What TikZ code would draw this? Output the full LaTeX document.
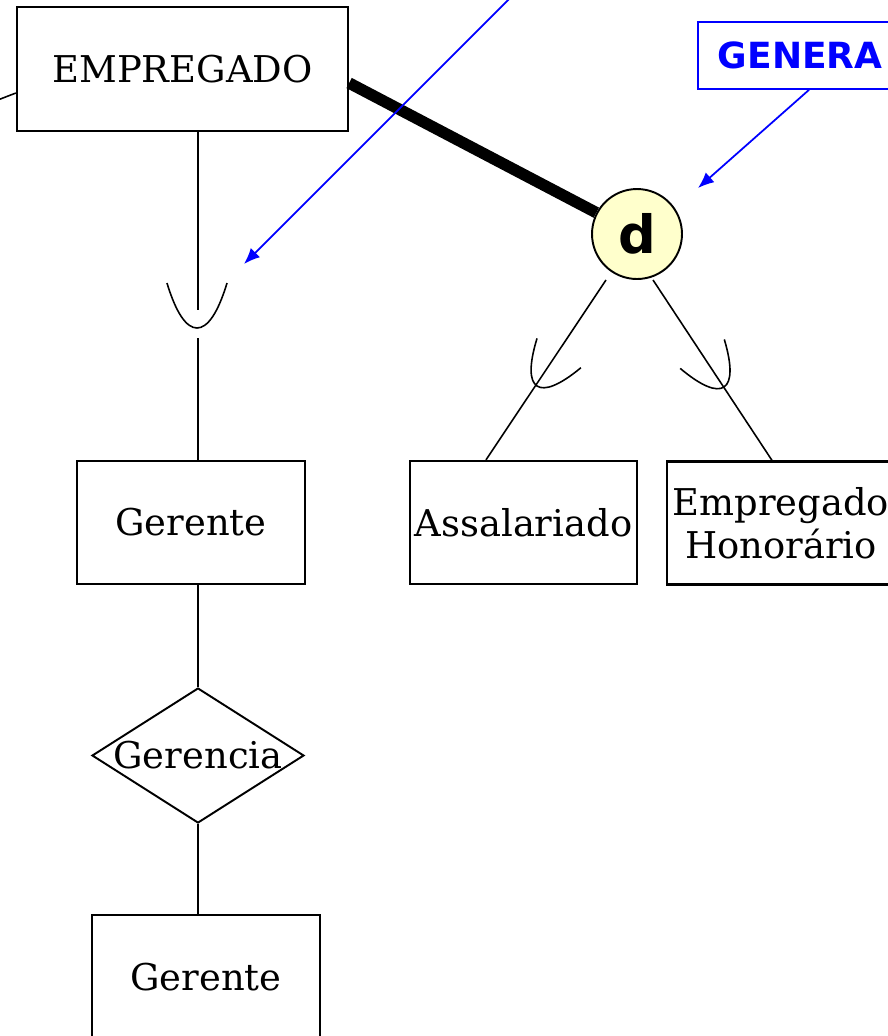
\documentclass[tikz,border=0pt]{standalone}
\usepackage{fontspec}
\setmainfont{DejaVu Serif}
\newfontfamily\notesans{DejaVu Sans}
\usetikzlibrary{positioning,calc,arrows.meta,shapes.geometric}
\definecolor{specYellow}{RGB}{255,255,204}
\definecolor{noteBlue}{RGB}{0,0,255}

\begin{document}
\begin{tikzpicture}[x=0.02cm, y=-0.02cm]
  \tikzset{
    entity/.style={draw, line width=1.3pt, fill=white, align=center, inner sep=0pt,
      font=\fontsize{21}{24.5}\selectfont},
    relation/.style={diamond, draw, line width=1.1pt, inner sep=0pt,
      font=\fontsize{21}{24.5}\selectfont},
    spec/.style={circle, draw, line width=1.1pt, fill=specYellow, minimum size=1.8cm,
      inner sep=0pt, font=\notesans\bfseries\fontsize{30}{30}\selectfont},
    link/.style={line width=0.9pt},
    total/.style={line width=0.23cm},
    note/.style={draw=noteBlue, line width=1pt, text=noteBlue,
      font=\notesans\bfseries\fontsize{20.5}{24}\selectfont},
    notearrow/.style={draw=noteBlue, line width=1pt, -{Latex[length=0.32cm, width=0.26cm]}},
    isa/.pic={\draw[link] (-30,-45) .. controls (-12,15) and (12,15) .. (30,-45);}
  }

  % page size in pixels of the drawing
  \path[use as bounding box] (0,0) rectangle (888,1036);

  % entities
  \node[entity, minimum width=6.62cm, minimum height=2.48cm] (empregado) at (182.5,69) {EMPREGADO};
  \node[entity, minimum width=4.56cm, minimum height=2.46cm] (gerente) at (191,522.5) {Gerente};
  \node[entity, minimum width=4.54cm, minimum height=2.46cm] (assal) at (523.5,522.5) {Assalariado};
  \node[entity, minimum width=4.56cm, minimum height=2.46cm] (honor) at (781,523) {Empregado\\Honorário};
  \node[entity, minimum width=4.56cm, minimum height=2.48cm] (gerente2) at (206,977) {Gerente};

  % relationship
  \node[relation, minimum width=4.24cm, minimum height=2.7cm] (gerencia) at (198,755.5) {\makebox[0pt]{Gerencia}};

  % specialization circle and its note
  \node[spec] (d) at (637,234) {d};
  \node[note, anchor=west, minimum height=1.34cm, text width=5cm, inner xsep=0.4cm, align=left] (genera) at (697,55.5) {GENERA};

  % total participation of the superclass
  \draw[total] ([yshift=-0.28cm]empregado.east) -- (d);

  % line leaving to the left
  \coordinate (stub) at (-10,103);
  \draw[link] (stub) -- ([yshift=-0.48cm]empregado.west);

  % subclass Gerente
  \coordinate (gerTop) at (198,310);
  \coordinate (gerBot) at (198,338);
  \draw[link] (gerTop |- empregado.south) -- (gerTop);
  \draw[link] (gerBot) -- (gerBot |- gerente.north);
  \pic at (197,328) {isa};

  % Gerente -- Gerencia -- Gerente
  \draw[link] (gerencia.north |- gerente.south) -- (gerencia.north);
  \draw[link] (gerencia.south) -- (gerencia.south |- gerente2.north);

  % disjoint subclasses
  \draw[link] ([xshift=-0.62cm]d.south) -- ([xshift=-0.75cm]assal.north);
  \draw[link] ([xshift=0.32cm]d.south) -- ([xshift=-0.18cm]honor.north);
  \pic[rotate=-33.7, scale=0.88] at (537,386) {isa};
  \pic[rotate=33.3, scale=0.88] at (724,387) {isa};

  % blue notes
  \coordinate (noteTop) at (512,-4);
  \coordinate (isaTip) at (244,264);
  \draw[notearrow] (noteTop) -- (isaTip);
  \coordinate (specTip) at (698,188);
  \draw[notearrow] ([xshift=2.24cm]genera.south west) -- (specTip);
\end{tikzpicture}
\end{document}
